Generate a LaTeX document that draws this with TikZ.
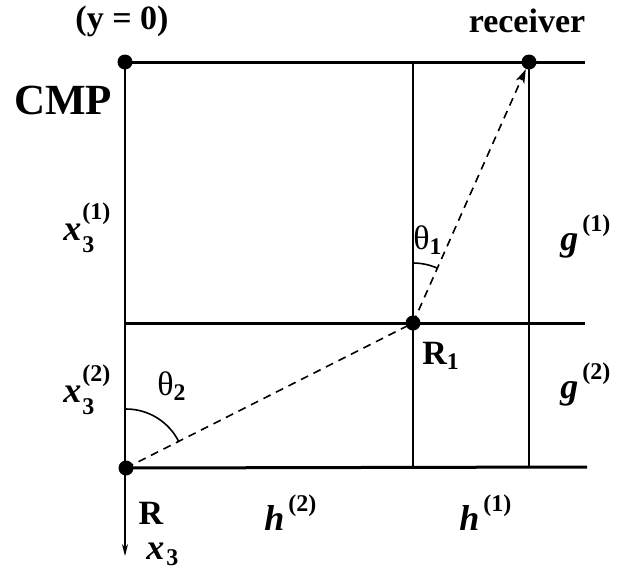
\documentclass[tikz,border=0pt]{standalone}
\usepackage{fontspec}
\usepackage{amsmath}
\setmainfont{Liberation Serif}
\usetikzlibrary{arrows.meta,positioning}
\tikzset{
  >={Stealth[length=7pt,width=4.5pt,inset=2pt]},
  dot/.style={circle,fill=black,inner sep=0pt,minimum size=7.5pt},
  layer/.style={line width=1.5pt},
  trace/.style={line width=0.8pt},
  ray/.style={line width=0.8pt,dash pattern=on 4pt off 3pt},
  lbl/.style={font=\fontsize{17}{19}\selectfont\bfseries,inner sep=0pt},
  big/.style={font=\fontsize{21.5}{24}\selectfont\bfseries,inner sep=0pt},
  sym/.style={font=\fontsize{18}{20}\selectfont\bfseries,inner sep=0pt,anchor=base west},
  ang/.style={font=\fontsize{17}{19}\selectfont,inner sep=0pt},
}
\newcommand\scr[1]{{\fontsize{12}{12}\selectfont\bfseries #1}}
\newcommand\xthree[1]{\textit{x}\kern0.5pt\rlap{\raisebox{10.5pt}{\scr{#1}}}\raisebox{-6pt}{\scr{3}}}
\newcommand\lay[2]{\textit{#1}\kern2pt\raisebox{9.5pt}{\scr{#2}}}

\begin{document}
\begin{tikzpicture}[x=0.5pt,y=-0.5pt]
  \useasboundingbox (0,0) rectangle (627,569);
  % points
  \node[dot] (cmp) at (125,62) {};
  \node[dot] (rcv) at (529,62) {};
  \node[dot] (rone) at (413,323) {};
  \node[dot] (rpt) at (126,468) {};
  \coordinate (topend) at (585,62);
  \coordinate (midend) at (585,323);
  \coordinate (botend) at (587,467);
  \coordinate (depth) at (125,556);
  % layer boundaries
  \draw[layer] (cmp.center) -- (topend);
  \draw[layer] (cmp |- rone) -- (midend);
  \draw[layer] (rpt.center) -- (botend);
  % verticals
  \draw[trace] (rone |- cmp) -- (rone |- rpt);
  \draw[trace] (rcv.center) -- (rcv |- rpt);
  \draw[trace,-{Stealth[length=6pt,width=3pt]}] (cmp.center) -- (depth);
  % ray path
  \draw[ray] (rpt.center) -- (rone.center);
  \draw[ray,->] (rone.center) -- (rcv);
  \draw[trace] ([yshift=30pt]rone.center) arc[start angle=90,end angle=66,radius=30pt];
  \draw[trace] ([yshift=29.5pt]rpt.center) arc[start angle=90,end angle=27,radius=29.5pt];
  % labels
  \node[lbl] (yzero) at (122,21) {(y = 0)};
  \node[lbl] (rcvlbl) at (527,21) {receiver};
  \node[big] (cmplbl) at (63,100) {CMP};
  \node[sym] (xone) at (63,240) {\xthree{(1)}};
  \node[sym] (xtwo) at (63,402) {\xthree{(2)}};
  \node[sym] (gone) at (560,250) {\lay{g}{(1)}};
  \node[sym] (gtwo) at (560,398) {\lay{g}{(2)}};
  \node[sym] (htwo) at (264,530) {\lay{h}{(2)}};
  \node[sym] (hone) at (459,530) {\lay{h}{(1)}};
  \node[sym] (xdep) at (146,559) {\textit{x}\kern1pt\raisebox{-3pt}{\scr{3}}};
  \node[lbl] (ronelbl) at (441,356) {R$_{\textbf{1}}$};
  \node[lbl] (rlbl) at (151,513) {R};
  \node[ang] (tone) at (428,240) {θ$_{\textbf{1}}$};
  \node[ang] (ttwo) at (172,386) {θ$_{\textbf{2}}$};
\end{tikzpicture}
\end{document}
